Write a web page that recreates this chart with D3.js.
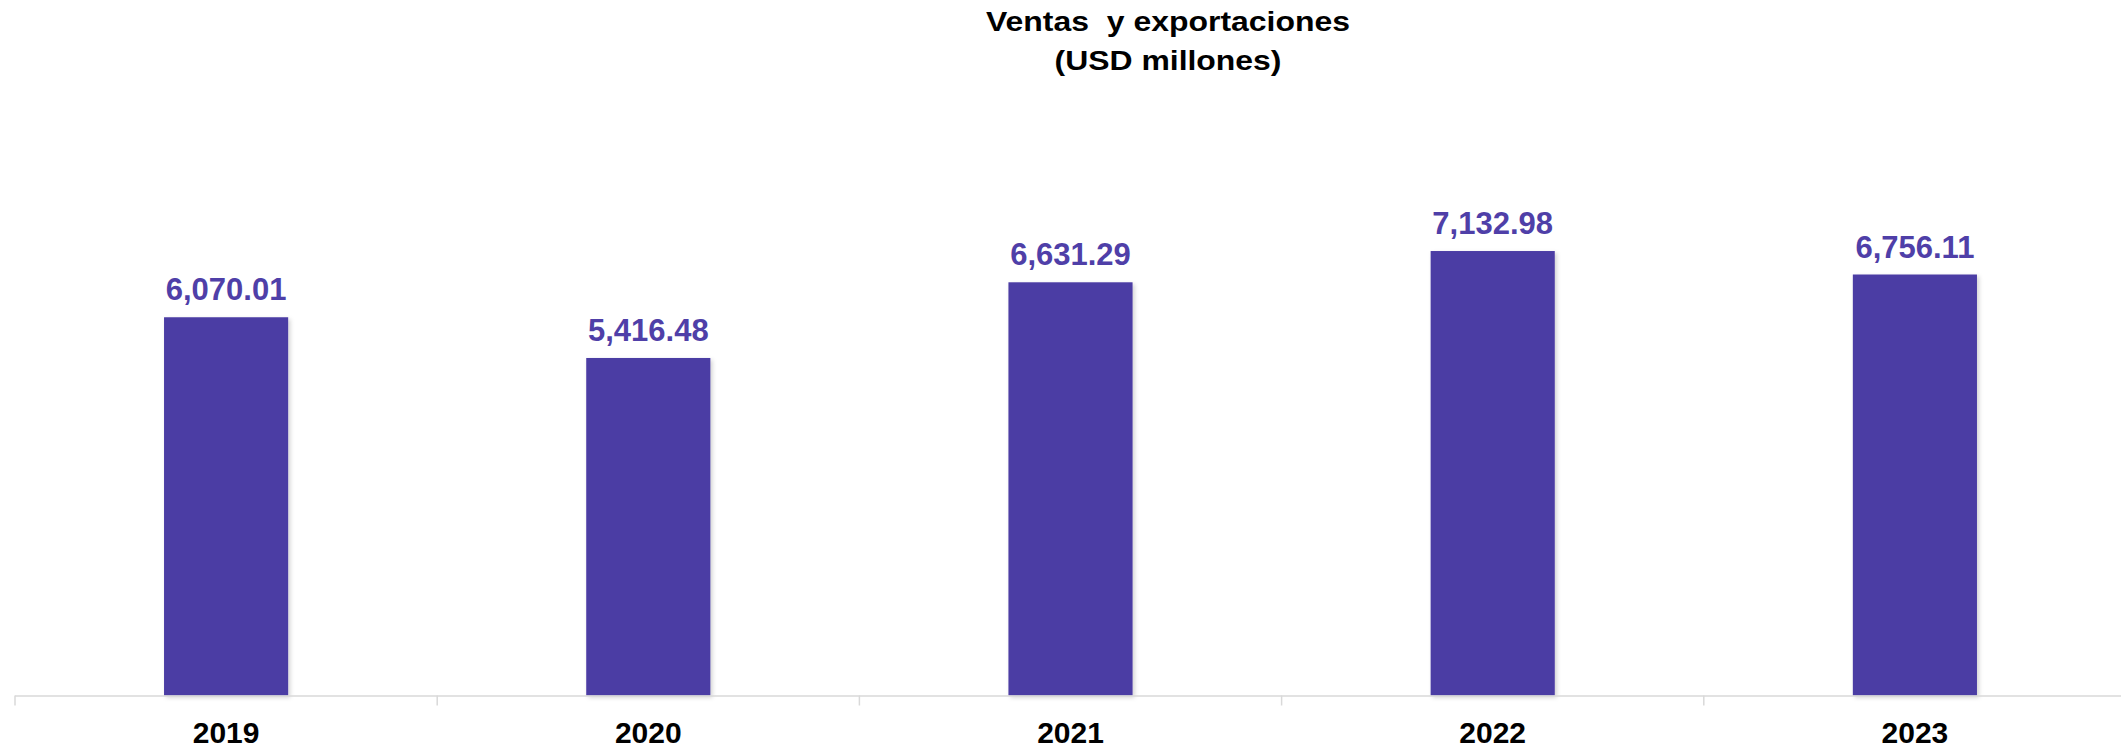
<!DOCTYPE html>
<html>
<head>
<meta charset="utf-8">
<script src="https://cdn.jsdelivr.net/npm/d3@7"></script>
<style>
  html, body { margin: 0; padding: 0; background: #fff; }
  svg { display: block; }
</style>
</head>
<body>
<svg id="chart" width="2121" height="748"></svg>
<script>
const categories = ["2019", "2020", "2021", "2022", "2023"];
const values = [6070.01, 5416.48, 6631.29, 7132.98, 6756.11];
const valueLabels = ["6,070.01", "5,416.48", "6,631.29", "7,132.98", "6,756.11"];
const titleLines = ["Ventas  y exportaciones", "(USD millones)"];

const W = 2121, H = 748;
const svg = d3.select("#chart");
const font = "'Liberation Sans', Arial, sans-serif";

const defs = svg.append("defs");
const f = defs.append("filter").attr("id", "shadow").attr("x", "-10%").attr("y", "-10%").attr("width", "130%").attr("height", "130%");
f.append("feDropShadow").attr("dx", 2).attr("dy", 2).attr("stdDeviation", 2).attr("flood-color", "#000").attr("flood-opacity", 0.18);

const x = d3.scaleBand().domain(categories).range([15, 2126]).padding(0);
const y = d3.scaleLinear().domain([0, 8000]).range([695.5, 197]);
const barW = x.bandwidth() * 0.294;

// title
const titleWidths = [364, 227];
svg.append("g").selectAll("text").data(titleLines).join("text")
  .attr("x", (d, i) => 1168 - titleWidths[i] / 2).attr("y", (d, i) => 31 + i * 39)
  .attr("font-family", font).attr("font-weight", "bold").attr("font-size", 28)
  .attr("fill", "#000")
  .attr("textLength", (d, i) => titleWidths[i])
  .attr("lengthAdjust", "spacingAndGlyphs")
  .style("white-space", "pre")
  .text(d => d);

// bars
svg.append("g").selectAll("rect").data(values).join("rect")
  .attr("x", (d, i) => x(categories[i]) + x.bandwidth() / 2 - barW / 2)
  .attr("y", d => y(d))
  .attr("width", barW)
  .attr("height", d => y(0) - y(d))
  .attr("fill", "#4B3CA4")
  .attr("filter", "url(#shadow)");

// axis
const axis = d3.axisBottom(x).tickSize(10).tickSizeOuter(0).tickFormat("");
const gAxis = svg.append("g").attr("transform", `translate(0,${y(0)})`).call(axis);
gAxis.select(".domain").attr("stroke", "#d9d9d9").attr("stroke-width", 1.5).attr("d", `M15,0.5H2121`);
gAxis.selectAll(".tick").remove();
const bounds = categories.map(c => x(c));
gAxis.selectAll("line.b").data(bounds).join("line").attr("class", "b")
  .attr("x1", d => d).attr("x2", d => d).attr("y1", 0).attr("y2", 10)
  .attr("stroke", "#d9d9d9").attr("stroke-width", 1.5);

// category labels
svg.append("g").selectAll("text").data(categories).join("text")
  .attr("x", d => x(d) + x.bandwidth() / 2)
  .attr("y", 743)
  .attr("text-anchor", "middle")
  .attr("font-family", font).attr("font-weight", "bold").attr("font-size", 30)
  .attr("fill", "#000")
  .text(d => d);

// value labels
svg.append("g").selectAll("text").data(values).join("text")
  .attr("x", (d, i) => x(categories[i]) + x.bandwidth() / 2)
  .attr("y", d => y(d) - 17)
  .attr("text-anchor", "middle")
  .attr("font-family", font).attr("font-weight", "bold").attr("font-size", 31)
  .attr("fill", "#4F3FA8")
  .text((d, i) => valueLabels[i]);
</script>
</body>
</html>
